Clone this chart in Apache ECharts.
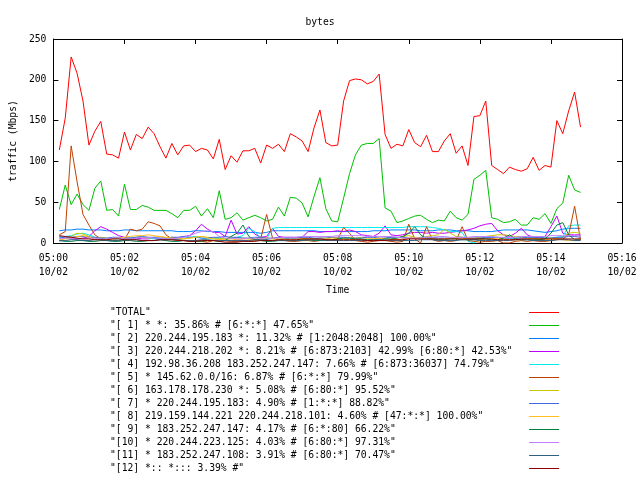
<!DOCTYPE html>
<html><head><meta charset="utf-8">
<script src="https://cdn.jsdelivr.net/npm/echarts@6/dist/echarts.min.js"></script>
<style>html,body{margin:0;padding:0;background:#fff}#c{width:640px;height:480px}</style>
</head><body><div id="c"></div>
<script>
// ---- data ----
const titleText = 'bytes';
const dayLabel = '10/02';
const startHour = 5;          // axis starts at 05:00
const firstSampleSec = 10;    // first sample 05:00:10
const sampleStepSec = 10;     // one sample every 10 s
const axisMaxSec = 960;       // 05:16
const axisStepSec = 120;      // tick every 2 minutes

const seriesNames = [
  '"TOTAL"',
  '"[ 1] * *: 35.86% # [6:*:*] 47.65%"',
  '"[ 2] 220.244.195.183 *: 11.32% # [1:2048:2048] 100.00%"',
  '"[ 3] 220.244.218.202 *: 8.21% # [6:873:2103] 42.99% [6:80:*] 42.53%"',
  '"[ 4] 192.98.36.208 183.252.247.147: 7.66% # [6:873:36037] 74.79%"',
  '"[ 5] * 145.62.0.0/16: 6.87% # [6:*:*] 79.99%"',
  '"[ 6] 163.178.178.230 *: 5.08% # [6:80:*] 95.52%"',
  '"[ 7] * 220.244.195.183: 4.90% # [1:*:*] 88.82%"',
  '"[ 8] 219.159.144.221 220.244.218.101: 4.60% # [47:*:*] 100.00%"',
  '"[ 9] * 183.252.247.147: 4.17% # [6:*:80] 66.22%"',
  '"[10] * 220.244.223.125: 4.03% # [6:80:*] 97.31%"',
  '"[11] * 183.252.247.108: 3.91% # [6:80:*] 70.47%"',
  '"[12] *:: *::: 3.39% #"'
];
const seriesColors = ['#ff0000','#00c000','#0080ff','#c000ff','#00eeee','#c04000','#c8c800','#4169e1','#ffc020','#008040','#c080ff','#306080','#8b0000'];

const total = [114,153,228,208,174,120,137,149,109,108,
  104,136,114,133,128,142,134,118,104,122,
  108,119,120,112,116,114,103,127,90,107,
  99,113,113,116,98,120,116,121,112,134,
  130,125,112,141,163,123,119,120,174,199,
  201,200,195,198,207,133,116,121,119,139,
  123,118,132,112,112,125,134,110,119,95,
  155,156,174,95,90,85,93,90,88,91,
  105,89,95,93,150,134,162,185,142];
const s1 = [41,71,47,60,47,40,67,76,40,41,
  33,72,41,41,46,44,40,40,40,36,
  31,40,40,45,33,42,31,64,29,31,
  37,28,31,34,31,27,29,44,33,56,
  55,49,32,57,80,42,27,26,55,85,
  108,120,122,122,128,43,39,25,27,30,
  33,34,29,25,28,27,39,31,28,35,
  78,83,89,31,29,25,26,29,22,22,
  31,29,36,24,42,49,83,65,62];
const s2 = [15,16,16,17,17,16,16,16,15,15,
  15,16,16,15,15,15,15,15,15,15,
  14,14,14,15,15,14,14,14,13,13,
  13,13,13,13,12,13,15,15,15,15,
  15,15,15,15,14,14,14,14,14,14,
  14,14,14,15,15,15,16,16,16,16,
  16,15,15,15,16,16,16,15,15,15,
  14,14,14,14,15,16,16,16,16,16,
  15,14,13,14,15,17,18,18,18];
const s3 = [8,6,5,5,6,8,15,20,17,13,
  9,7,6,6,5,5,6,5,5,7,
  6,8,9,15,23,17,13,13,8,28,
  11,12,20,11,7,8,18,8,7,7,
  7,7,14,14,13,14,14,15,14,16,
  14,10,9,8,12,21,10,9,10,12,
  13,13,12,13,12,12,13,14,15,16,
  18,21,23,24,15,10,8,12,18,10,
  7,6,8,20,33,12,10,10,10];
const s4 = [7,8,9,11,12,10,7,6,5,5,
  5,6,6,7,8,6,5,5,6,5,
  5,6,7,8,6,5,5,6,5,6,
  7,9,18,14,6,5,18,19,19,19,
  19,19,19,19,19,19,19,19,19,19,
  19,19,19,19,19,19,19,19,19,20,
  20,20,20,19,18,16,14,14,13,2,
  0,5,6,7,6,6,6,6,7,6,
  6,6,6,6,7,8,21,22,22];
const s5 = [10,14,119,75,35,22,10,5,4,3,
  3,4,17,15,17,26,24,21,10,5,
  4,3,2,3,2,1,3,4,3,2,
  2,3,2,3,5,35,6,4,3,2,
  2,3,3,2,3,4,3,5,19,12,
  3,2,1,2,3,3,2,1,2,23,
  5,0,20,4,2,3,2,3,20,3,
  2,1,2,2,3,0,0,2,3,2,
  3,2,2,3,4,5,10,45,4];
const s6 = [2,6,8,12,11,8,6,7,6,5,
  6,6,5,7,7,6,7,8,6,7,
  6,5,6,7,8,7,6,6,5,7,
  6,6,5,6,7,6,5,6,5,6,
  6,5,6,5,6,6,7,5,6,7,
  6,7,6,6,5,6,7,6,8,9,
  7,6,8,9,10,17,12,8,7,6,
  6,7,8,9,10,10,9,8,7,6,
  6,5,6,6,5,7,12,13,12];
const s7 = [6,7,7,8,8,7,7,6,6,7,
  7,6,6,7,8,7,7,6,6,7,
  7,8,7,7,6,6,7,7,8,7,
  7,6,6,7,7,6,6,7,6,6,
  6,7,7,6,6,6,7,7,7,6,
  6,6,7,7,6,6,7,7,7,6,
  6,7,7,7,6,6,6,7,7,6,
  6,6,7,7,7,6,6,6,6,7,
  7,7,6,6,7,7,8,8,7];
const s8 = [4,5,6,8,9,7,5,4,4,5,
  6,7,8,9,9,10,9,8,7,6,
  5,5,6,7,8,6,5,4,4,5,
  4,5,5,4,5,6,5,5,4,4,
  4,5,5,4,4,5,6,6,5,4,
  4,4,5,5,6,5,4,4,5,6,
  7,6,5,5,4,5,6,7,6,5,
  4,4,5,5,6,5,4,4,4,5,
  5,4,4,5,5,4,3,3,3];
const s9 = [3,2,2,3,3,2,2,3,3,2,
  2,3,3,2,2,3,3,4,3,2,
  2,3,3,2,2,3,3,2,3,8,
  12,22,8,4,3,2,2,3,3,3,
  3,4,4,3,3,4,4,5,6,6,
  5,5,4,4,4,5,5,6,8,12,
  20,10,5,5,4,4,5,5,4,4,
  4,5,5,4,4,6,10,5,4,4,
  4,4,5,12,22,25,10,4,4];
const s10 = [5,6,6,5,5,6,6,5,5,6,
  6,5,5,6,7,7,6,6,5,5,
  6,7,9,12,14,15,14,8,6,6,
  5,5,6,6,5,5,6,6,7,7,
  7,8,8,8,8,8,8,9,9,9,
  9,9,8,8,8,8,8,7,6,6,
  6,6,7,7,8,8,7,7,7,7,
  8,8,8,8,7,7,7,7,8,8,
  8,8,8,9,9,9,9,9,9];
const s11 = [3,3,4,4,3,3,4,4,3,3,
  3,4,4,4,3,3,3,4,4,4,
  4,3,3,3,4,4,3,3,3,3,
  3,3,3,4,4,4,3,3,3,3,
  3,3,4,4,4,3,3,3,3,3,
  3,3,3,4,4,4,3,3,3,3,
  3,4,4,4,3,3,3,3,4,4,
  4,3,3,3,3,3,3,4,4,4,
  3,3,3,3,4,4,4,3,3];
const s12 = [9,8,7,6,5,5,4,4,4,5,
  5,4,4,4,3,3,3,4,4,4,
  3,3,2,2,3,3,3,2,1,1,
  1,2,2,2,3,3,3,4,4,4,
  4,5,5,5,5,4,4,4,4,4,
  4,4,3,3,3,3,4,4,4,5,
  5,5,5,5,5,5,5,5,5,5,
  5,5,5,5,4,4,4,4,5,5,
  5,5,5,5,5,5,5,5,5];
const yTicks = {min: 0, max: 250, step: 50};

// ---- chart ----
const allValues = [total,s1,s2,s3,s4,s5,s6,s7,s8,s9,s10,s11,s12];
const FONT = 'DejaVu Sans Mono';
const FS = 9.7;
const pad2 = n => String(n).padStart(2,'0');
function timeLabel(sec){
  const m = Math.round(sec/60);
  const h = startHour + Math.floor(m/60);
  return pad2(h) + ':' + pad2(m % 60) + '\n' + dayLabel;
}
const txt = {fontFamily: FONT, fontSize: FS, color: '#000'};

const series = allValues.map((vals, k) => ({
  name: seriesNames[k],
  type: 'line',
  xAxisIndex: 0, yAxisIndex: 0,
  symbol: 'none', showSymbol: false,
  color: seriesColors[k],
  itemStyle: {color: seriesColors[k]},
  lineStyle: {width: 1, color: seriesColors[k]},
  data: vals.map((v, i) => [firstSampleSec + i * sampleStepSec, v]),
  animation: false
}));

const axisCommon = {
  axisLine: {show: true, onZero: false, lineStyle: {color: '#000', width: 1}},
  axisTick: {show: true, inside: true, length: 5, lineStyle: {color: '#000', width: 1}},
  splitLine: {show: false}
};

const option = {
  backgroundColor: '#fff',
  animation: false,
  title: {text: titleText, left: 'center', top: 12, textStyle: Object.assign({fontWeight: 'normal'}, txt)},
  grid: {left: 52, right: 18, top: 39, bottom: 237},
  xAxis: [
    Object.assign({type: 'value', position: 'bottom', min: 0, max: axisMaxSec, interval: axisStepSec,
      name: 'Time', nameLocation: 'middle', nameGap: 42, nameTextStyle: txt,
      axisLabel: Object.assign({formatter: timeLabel, margin: 8, lineHeight: 14, showMinLabel: true, showMaxLabel: true}, txt)
    }, axisCommon),
    Object.assign({type: 'value', position: 'top', min: 0, max: axisMaxSec, interval: axisStepSec,
      axisLabel: {show: false}}, axisCommon)
  ],
  yAxis: [
    Object.assign({type: 'value', position: 'left', min: yTicks.min, max: yTicks.max, interval: yTicks.step,
      name: 'traffic (Mbps)', nameLocation: 'middle', nameGap: 34, nameRotate: 90, nameTextStyle: txt,
      axisLabel: Object.assign({margin: 7}, txt)}, axisCommon),
    Object.assign({type: 'value', position: 'right', min: yTicks.min, max: yTicks.max, interval: yTicks.step,
      axisLabel: {show: false}}, axisCommon)
  ],
  legend: {
    orient: 'vertical', left: 110, top: 306, align: 'right', padding: 0,
    itemWidth: 30, itemHeight: 13, itemGap: 0,
    icon: 'path://M0,0L30,0L30,1L0,1Z',
    selectedMode: false,
    formatter: name => name.padEnd(71, ' '),
    textStyle: Object.assign({lineHeight: 13}, txt),
    data: seriesNames
  },
  series: series
};

const chart = echarts.init(document.getElementById('c'), null, {renderer: 'canvas'});
chart.setOption(option);
</script>
</body></html>
